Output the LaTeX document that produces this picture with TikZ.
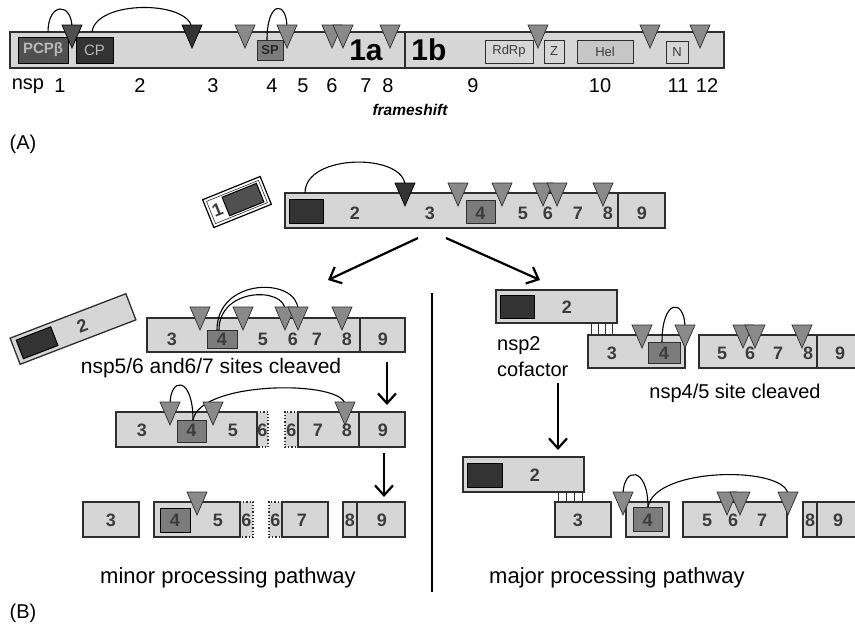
\documentclass[tikz,border=0pt]{standalone}
\usepackage{fontspec}
\setmainfont{Liberation Sans}
\usetikzlibrary{arrows.meta}
\definecolor{barfill}{HTML}{D6D6D6}
\definecolor{edge}{HTML}{2E2E2E}
\definecolor{midg}{HTML}{8A8A8A}
\definecolor{darkg}{HTML}{333333}
\definecolor{darkt}{HTML}{505050}
\definecolor{boxg}{HTML}{7C7C7C}
\definecolor{helg}{HTML}{C6C6C6}
\definecolor{numc}{HTML}{3C3C3C}
\definecolor{lightt}{HTML}{B8B8B8}
\tikzset{
 bar/.style={draw=edge, fill=barfill, line width=1.3pt},
 dotbar/.style={draw=edge, dotted, line width=1.2pt},
 arcl/.style={draw=black, line width=1.1pt},
 trig/.style={fill=midg, draw=edge, line width=0.7pt},
 trid/.style={fill=darkg, draw=black, line width=0.7pt},
 trim/.style={fill=darkt, draw=black, line width=0.7pt},
 darkbox/.style={fill=darkg, draw=black, line width=1pt},
 midbox/.style={fill=boxg, draw=edge, line width=1pt},
 num/.style={font=\fontsize{18}{18}\selectfont\bfseries, text=numc, inner sep=0},
 lab/.style={font=\fontsize{20}{20}\selectfont, inner sep=0},
 biglab/.style={font=\fontsize{22}{22}\selectfont, inner sep=0},
 dom/.style={font=\fontsize{13}{13}\selectfont, text=numc, inner sep=0},
 bigarrow/.style={line width=2.2pt, -{Straight Barb[length=10pt,width=18pt,line width=2.2pt]}},
 comb/.style={draw=edge, line width=1pt},
}
\newcommand{\tri}[3]{\draw[#3] ({#1-10},#2) -- ({#1+10},#2) -- (#1,{#2+23}) -- cycle;}
\begin{document}
\begin{tikzpicture}[x=1pt,y=-1pt]
\useasboundingbox (0,0) rectangle (855,630);

% ===== Panel A =====
\draw[bar] (10,32) rectangle (724,68);
\draw[edge, line width=1.3pt] (405,32) -- (405,68);
\draw[fill=darkt, draw=black, line width=1pt] (18,37) rectangle (68,63);
\node[font=\fontsize{15}{15}\selectfont\bfseries, text=lightt, inner sep=0] (pcp) at (43,50) {PCPβ};
\draw[darkbox] (76,37) rectangle (113,63);
\node[font=\fontsize{15}{15}\selectfont, text=lightt, inner sep=0] (cp) at (94.5,50) {CP};
\draw[midbox] (257,40) rectangle (283,60);
\node[font=\fontsize{13}{13}\selectfont\bfseries, text=black!85, inner sep=0] (sp) at (270,50) {SP};
\node[font=\fontsize{30}{30}\selectfont\bfseries, inner sep=0] (la) at (366,50) {1a};
\node[font=\fontsize{30}{30}\selectfont\bfseries, inner sep=0] (lb) at (429,50) {1b};
\draw[fill=barfill, draw=edge, line width=1pt] (485,40) rectangle (533,63);
\node[dom] (rdrp) at (509,51.5) {RdRp};
\draw[fill=barfill, draw=edge, line width=1pt] (544,40) rectangle (564,63);
\node[dom] (z) at (554,51.5) {Z};
\draw[fill=helg, draw=edge, line width=1pt] (577,40) rectangle (633,63);
\node[dom] (hel) at (605,51.5) {Hel};
\draw[fill=barfill, draw=edge, line width=1pt] (666,41) rectangle (688,63);
\node[dom] (n) at (677,52) {N};
\draw[arcl] (48,32) .. controls (48,2) and (72,2) .. (72,28);
\draw[arcl] (92,32) .. controls (96,0) and (188,0) .. (192,28);
\draw[arcl] (267,40) .. controls (267,0) and (287,0) .. (287,28);
\tri{72}{25}{trim}
\tri{192}{25}{trid}
\foreach \x in {245,287,332,343,390,538,650,700} {\tri{\x}{25}{trig}}
\foreach \x/\t in {28/nsp,60/1,140/2,213/3,272/4,303/5,332/6,366/7,388/8,473/9,600/10,678/11,707/12}
  {\node[lab] (a\t) at (\x,86) {\t};}
\node[font=\fontsize{15.5}{15.5}\selectfont\bfseries\itshape, inner sep=0] (fs) at (410,110) {frameshift};
\node[lab] (pa) at (23,144) {(A)};
\node[lab] (pb) at (23,613) {(B)};

% ===== Panel B top =====
\begin{scope}[shift={(237,202)}, rotate=22]
 \draw[fill=white, draw=black, line width=1.2pt] (-31,-15) rectangle (31,15);
 \draw[draw=edge, line width=0.6pt] (-28,-12) rectangle (28,12);
 \draw[fill=darkt, draw=black, line width=1pt] (-12,-10) rectangle (25,10);
 \node[num, transform shape] (b1) at (-21,0) {1};
\end{scope}
\draw[bar] (285,193) rectangle (665,228);
\draw[edge, line width=1.3pt] (618,193) -- (618,228);
\draw[darkbox] (289,199) rectangle (323,223);
\draw[midbox] (466,200) rectangle (495,223);
\draw[arcl] (305,193) .. controls (305,153) and (405,153) .. (405,186);
\tri{405}{183}{trid}
\foreach \x in {458,502,543,557,603} {\tri{\x}{183}{trig}}
\foreach \x/\t in {355/2,430/3,480.5/4,523/5,548/6,578/7,608/8,642/9}
  {\node[num] (t\t) at (\x,213) {\t};}
\draw[bigarrow] (418,238) -- (328,280);
\draw[bigarrow] (446,238) -- (540,280);
\draw[line width=1.6pt] (432,293) -- (432,592);

% ===== Left branch =====
\begin{scope}[shift={(73,329)}, rotate=21]
 \draw[bar] (-62,-14) rectangle (62,14);
 \draw[darkbox] (-57,-10) rectangle (-20,10);
 \node[num, transform shape] (l2) at (10,0) {2};
\end{scope}
% row 1
\draw[bar] (147,318) rectangle (405,352);
\draw[edge, line width=1.3pt] (360,318) -- (360,352);
\draw[midbox] (207,330) rectangle (237,348);
\draw[arcl] (217,330) .. controls (217,277) and (298,277) .. (298,310);
\draw[arcl] (219,330) .. controls (219,287) and (285,287) .. (285,310);
\foreach \x in {200,243,285,298,342} {\tri{\x}{307}{trig}}
\foreach \x/\t in {172/3,222/4,263/5,293/6,317/7,347/8,383/9}
  {\node[num] (la\t) at (\x,339) {\t};}
\node[font=\fontsize{21}{21}\selectfont, inner sep=0] (cl1) at (211,368) {nsp5/6 and6/7 sites cleaved};
\draw[bigarrow] (387,362) -- (387,405);
% row 2
\fill[barfill] (116,412) rectangle (268,447);
\draw[bar] (116,412) rectangle (257,447);
\draw[dotbar] (257,412) -- (268,412) -- (268,447) -- (257,447);
\draw[midbox] (177,420) rectangle (206,442);
\fill[barfill] (285,412) rectangle (405,447);
\draw[bar] (298,412) rectangle (405,447);
\draw[dotbar] (298,412) -- (285,412) -- (285,447) -- (298,447);
\draw[edge, line width=1.3pt] (359,412) -- (359,447);
\draw[arcl] (193,420) .. controls (193,376) and (170,376) .. (170,405);
\draw[arcl] (193,420) .. controls (200,380) and (345,380) .. (345,405);
\foreach \x in {170,213,345} {\tri{\x}{402}{trig}}
\foreach \x/\t/\n in {142/3/a,191.5/4/b,233/5/c,262.5/6/d,291.5/6/e,318/7/f,347/8/g,383/9/h}
  {\node[num] (lb\n) at (\x,430) {\t};}
\draw[bigarrow] (384,453) -- (384,497);
% row 3
\draw[bar] (83,502) rectangle (139,537);
\fill[barfill] (154,502) rectangle (253,537);
\draw[bar] (154,502) rectangle (240,537);
\draw[dotbar] (240,502) -- (253,502) -- (253,537) -- (240,537);
\draw[darkbox, fill=boxg] (160,508) rectangle (190,532);
\fill[barfill] (269,502) rectangle (328,537);
\draw[bar] (282,502) rectangle (328,537);
\draw[dotbar] (282,502) -- (269,502) -- (269,537) -- (282,537);
\draw[bar] (343,502) rectangle (405,537);
\draw[edge, line width=1.3pt] (357,502) -- (357,537);
\tri{197}{492}{trig}
\foreach \x/\t/\n in {111/3/a,175/4/b,218/5/c,246.5/6/d,275.5/6/e,302/7/f,350/8/g,382/9/h}
  {\node[num] (lc\n) at (\x,520) {\t};}
\node[biglab] (minor) at (228,578) {minor processing pathway};

% ===== Right branch =====
% row 1
\draw[bar] (496,290) rectangle (617,323);
\draw[darkbox] (500,295) rectangle (534,318);
\node[num] (r2) at (567,307) {2};
\foreach \x in {591,598,605,612} {\draw[comb] (\x,323) -- (\x,335);}
\draw[bar] (588,335) rectangle (685,368);
\draw[midbox] (648,342) rectangle (680,363);
\draw[arcl] (662,342) .. controls (662,298) and (685,298) .. (685,328);
\draw[bar] (699,335) rectangle (862,368);
\draw[edge, line width=1.3pt] (817,335) -- (817,368);
\foreach \x in {642,685,743,755,802} {\tri{\x}{325}{trig}}
\foreach \x/\t in {612/3,664/4,722/5,750/6,778/7,808/8,840/9}
  {\node[num] (ra\t) at (\x,353) {\t};}
\node[lab, anchor=west] (nsp2) at (497,346) {nsp2};
\node[lab, anchor=west] (cof) at (497,369) {cofactor};
\node[lab] (cl2) at (735,393) {nsp4/5 site cleaved};
\draw[bigarrow] (558,383) -- (558,450);
% row 3
\draw[bar] (463,457) rectangle (584,492);
\draw[darkbox] (467,463) rectangle (502,487);
\node[num] (r2b) at (535,475) {2};
\foreach \x in {558,566,574,582} {\draw[comb] (\x,492) -- (\x,502);}
\draw[bar] (555,502) rectangle (611,537);
\draw[bar] (626,502) rectangle (669,537);
\draw[midbox] (633,507) rectangle (662,531);
\draw[bar] (683,502) rectangle (787,537);
\draw[bar] (803,502) rectangle (862,537);
\draw[edge, line width=1.3pt] (817,502) -- (817,537);
\draw[arcl] (648,507) .. controls (648,466) and (623,466) .. (623,495);
\draw[arcl] (648,507) .. controls (655,466) and (788,466) .. (788,495);
\foreach \x in {623,727,740,788} {\tri{\x}{492}{trig}}
\foreach \x/\t in {578/3,647.5/4,707/5,733/6,762/7,810/8,838/9}
  {\node[num] (rb\t) at (\x,520) {\t};}
\node[biglab] (major) at (617,578) {major processing pathway};
\end{tikzpicture}
\end{document}
